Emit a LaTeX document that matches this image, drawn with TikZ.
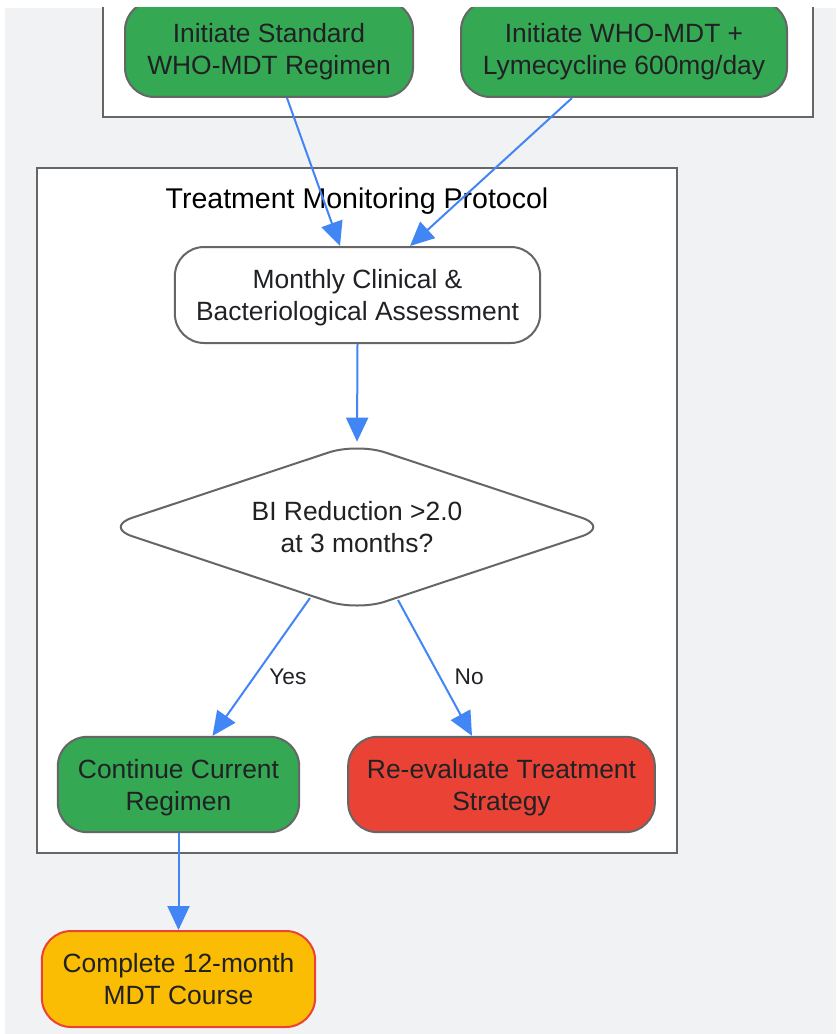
\documentclass[tikz,border=0pt]{standalone}
\usepackage{fontspec}
\setmainfont{Liberation Sans}
\usepackage{tikz}
\usetikzlibrary{arrows.meta,shapes.geometric,calc}

\definecolor{bgGray}{HTML}{F1F2F4}
\definecolor{lineGray}{HTML}{666666}
\definecolor{textDark}{HTML}{202124}
\definecolor{flowBlue}{HTML}{4285F4}
\definecolor{okGreen}{HTML}{34A853}
\definecolor{stopRed}{HTML}{EA4335}
\definecolor{doneYellow}{HTML}{FBBC04}

\tikzset{
  boxtext/.style={align=center, text=textDark, font=\fontsize{19.8}{24}\selectfont,
    execute at begin node={\rule{0pt}{43.75pt}}, execute at end node={\rule[-5.5pt]{0pt}{0pt}}},
  procbox/.style={boxtext, draw=lineGray, line width=1.5pt, rounded corners=22pt,
    inner sep=0pt, minimum height=72pt},
  greenbox/.style={procbox, fill=okGreen},
  redbox/.style={procbox, fill=stopRed},
  whitebox/.style={procbox, fill=white},
  donebox/.style={procbox, fill=doneYellow, draw=stopRed},
  decision/.style={boxtext, diamond, draw=lineGray, line width=1.5pt, fill=white, rounded corners=22pt,
    aspect=3, inner sep=0pt, minimum width=379.5pt, minimum height=126.5pt},
  cluster/.style={draw=lineGray, line width=1.5pt, fill=white},
  flow/.style={draw=flowBlue, line width=1.5pt, -{Triangle[length=18pt,width=16.5pt]}},
  edgelabel/.style={text=textDark, font=\fontsize{17}{20}\selectfont, inner sep=0pt}
}

\begin{document}
\begin{tikzpicture}[x=0.75pt,y=0.75pt,yscale=-1,xscale=1]
\useasboundingbox (0,0) rectangle (836,1034);
\clip (0,8) rectangle (836,1034);

%Background
\fill[bgGray] (5,8) rectangle (836,1034);

%Shape: Rectangle (regimen group)
\draw[cluster] (103,-10) rectangle (813,117);
%Shape: Rectangle (monitoring group)
\draw[cluster] (37,168) rectangle (677,853);

% Text Node
\node (title) at (357,201) [text=black, font=\fontsize{21.4}{26}\selectfont] {Treatment Monitoring Protocol};

% Nodes
\node (initStd) at (269,49) [greenbox, minimum width=216pt] {Initiate Standard\\WHO-MDT Regimen};
\node (initLym) at (624,49) [greenbox, minimum width=244.5pt] {Initiate WHO-MDT +\\Lymecycline 600mg/day};
\node (monthly) at (357.5,295) [whitebox, minimum width=274pt] {Monthly Clinical \&\\Bacteriological Assessment};
\node (biCheck) at (357,527) [decision] {BI Reduction >2.0\\at 3 months?};
\node (contReg) at (178.5,784.5) [greenbox, minimum width=181pt, minimum height=71.5pt] {Continue Current\\Regimen};
\node (reEval) at (501.5,784.5) [redbox, minimum width=230pt, minimum height=71.5pt] {Re-evaluate Treatment\\Strategy};
\node (complete) at (178.5,979) [donebox, minimum width=205pt] {Complete 12-month\\MDT Course};

%Straight Lines
\draw[flow] ($(initStd.south)+(18,0)$) -- ($(monthly.north)+(-17.5,0)$);
\draw[flow] ($(initLym.south)+(-52,0)$) -- ($(monthly.north)+(52.5,0)$);
\draw[flow] (monthly.south) -- (biCheck.north);
\draw[flow] ($(biCheck.center)+(-47,71)$) -- node[edgelabel, pos=0.57, anchor=west, xshift=10.5pt] {Yes} ($(contReg.north)+(34,0)$);
\draw[flow] ($(biCheck.center)+(41,73)$) -- node[edgelabel, pos=0.563, anchor=west, xshift=10.5pt] {No} ($(reEval.north)+(-29.5,0)$);
\draw[flow] (contReg.south) -- (complete.north);

\end{tikzpicture}
\end{document}
